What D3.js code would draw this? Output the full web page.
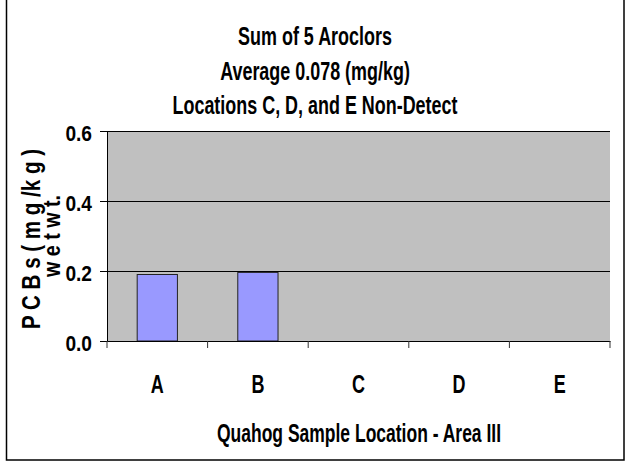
<!DOCTYPE html>
<html>
<head>
<meta charset="utf-8">
<script src="https://cdn.jsdelivr.net/npm/d3@7"></script>
<style>
  body { margin: 0; background: #fff; }
  text { font-family: "Liberation Sans", Arial, sans-serif; font-weight: bold; fill: #000; }
</style>
</head>
<body>
<svg width="629" height="465"></svg>
<script>
"use strict";

// 데이터
const locations = ["A", "B", "C", "D", "E"];
const pcbValues = [0.19, 0.196, 0, 0, 0]; // C, D, E 는 Non-Detect
const yTicks = [0.0, 0.2, 0.4, 0.6];
const titleLines = ["Sum of 5 Aroclors", "Average 0.078 (mg/kg)", "Locations C, D, and E Non-Detect"];

const svg = d3.select("svg");

// 좁은 글꼴 흉내: 가로로 눌러서 그리기
function narrowText(parent, x, y, size, sx, anchor, str) {
  return parent.append("text")
    .attr("transform", `translate(${x},${y}) scale(${sx},1)`)
    .attr("text-anchor", anchor)
    .style("font-size", size + "px")
    .text(str);
}

// 바깥 테두리
svg.append("rect")
  .attr("x", 6.5).attr("y", -2)
  .attr("width", 617.5).attr("height", 462)
  .style("fill", "white")
  .style("stroke", "black")
  .style("stroke-width", "1.5px");

const plot = { left: 107, right: 610, top: 131, bottom: 341 };

const x = d3.scaleBand()
  .domain(locations)
  .range([plot.left, plot.right]);

const y = d3.scaleLinear()
  .domain([0, 0.6])
  .range([plot.bottom, plot.top]);

// 회색 배경
svg.append("rect")
  .attr("x", plot.left).attr("y", plot.top)
  .attr("width", plot.right - plot.left)
  .attr("height", plot.bottom - plot.top)
  .style("fill", "#c0c0c0");

// 격자선
svg.selectAll(".grid")
  .data(yTicks.filter(d => d > 0))
  .enter().append("line")
  .attr("x1", plot.left).attr("x2", plot.right)
  .attr("y1", d => Math.round(y(d)) + 0.5)
  .attr("y2", d => Math.round(y(d)) + 0.5)
  .style("stroke", "black")
  .style("stroke-width", "1px");

// 막대
const barW = x.bandwidth() * 0.4;
svg.selectAll(".bar")
  .data(locations.map((d, i) => ({ loc: d, v: pcbValues[i] })).filter(d => d.v > 0))
  .enter().append("rect")
  .attr("x", d => x(d.loc) + (x.bandwidth() - barW) / 2)
  .attr("y", d => y(d.v))
  .attr("width", barW)
  .attr("height", d => y(0) - y(d.v))
  .style("fill", "#9999ff")
  .style("stroke", "#222")
  .style("stroke-width", "1px");

// y축 (선과 눈금만 d3 축으로)
const yAxis = svg.append("g")
  .attr("transform", `translate(${plot.left},0)`)
  .call(d3.axisLeft(y).tickValues(yTicks).tickFormat("").tickSize(7));
yAxis.selectAll("path, line").style("stroke", "black");
yTicks.forEach(t => {
  narrowText(svg, plot.left - 15, y(t) + 10, 22, 0.87, "end", d3.format(".1f")(t));
});

// x축
const xAxis = svg.append("g")
  .attr("transform", `translate(0,${plot.bottom})`)
  .call(d3.axisBottom(x).tickSize(0).tickFormat(""));
xAxis.select(".domain").style("stroke", "black");

// x축 눈금 (카테고리 경계)
xAxis.selectAll(".sep")
  .data(locations.map(d => x(d)).concat([plot.right]))
  .enter().append("line")
  .attr("x1", d => d).attr("x2", d => d)
  .attr("y1", 0).attr("y2", 7)
  .style("stroke", "#333");

locations.forEach(d => {
  narrowText(svg, x(d) + x.bandwidth() / 2, 393, 25, 0.72, "middle", d);
});

// 제목
titleLines.forEach((d, i) => {
  narrowText(svg, 315, 45 + i * 34.5, 26, 0.69, "middle", d);
});

// x축 제목
narrowText(svg, 359, 442, 25, 0.70, "middle", "Quahog Sample Location - Area III");

// y축 제목 (두 줄)
svg.append("text")
  .attr("transform", "translate(40,239) rotate(-90)")
  .attr("text-anchor", "middle")
  .attr("textLength", 180)
  .attr("lengthAdjust", "spacingAndGlyphs")
  .style("font-size", "25px")
  .text("P C B s ( m g /k g )");
svg.append("text")
  .attr("transform", "translate(60,236) rotate(-90)")
  .attr("text-anchor", "middle")
  .attr("textLength", 82)
  .attr("lengthAdjust", "spacingAndGlyphs")
  .style("font-size", "24px")
  .text("w e t w t.");
</script>
</body>
</html>
